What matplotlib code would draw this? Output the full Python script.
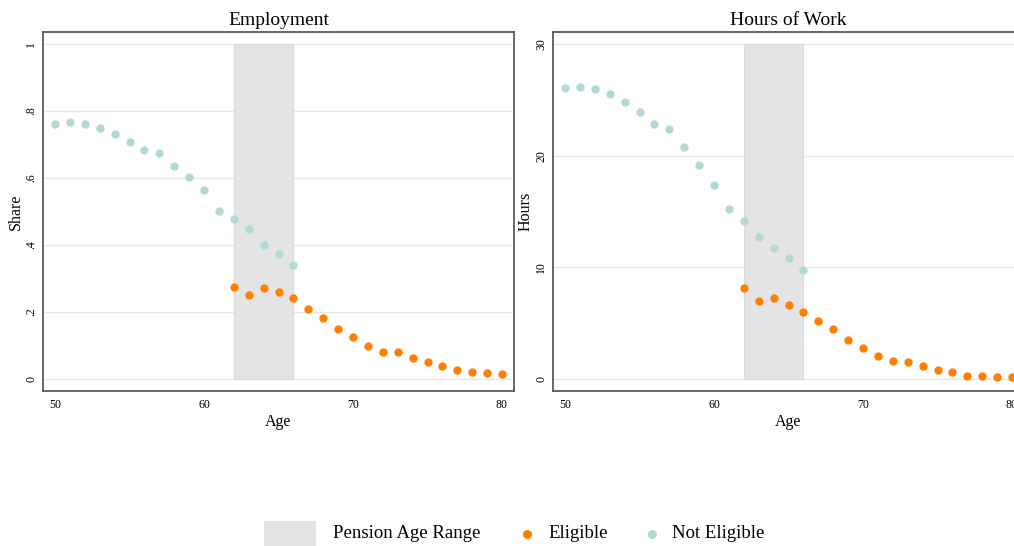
import numpy as np
import matplotlib
matplotlib.use("Agg")
import matplotlib.pyplot as plt
from matplotlib.patches import Rectangle
from matplotlib.lines import Line2D

plt.rcParams["font.family"] = ["Liberation Serif", "DejaVu Serif"]

# data
age_not = list(range(50, 67))
age_elig = list(range(62, 81))

emp_not = [0.761, 0.766, 0.761, 0.748, 0.730, 0.706, 0.683, 0.674, 0.637,
           0.602, 0.563, 0.500, 0.478, 0.449, 0.399, 0.374, 0.340]
emp_elig = [0.276, 0.250, 0.271, 0.260, 0.241, 0.208, 0.183, 0.149, 0.124,
            0.100, 0.082, 0.081, 0.064, 0.050, 0.039, 0.027, 0.020, 0.019, 0.014]

hrs_not = [26.06, 26.12, 25.94, 25.55, 24.81, 23.88, 22.84, 22.39, 20.75,
           19.13, 17.40, 15.19, 14.18, 12.75, 11.70, 10.81, 9.76]
hrs_elig = [8.15, 6.96, 7.22, 6.66, 6.00, 5.16, 4.51, 3.52, 2.75,
            2.09, 1.58, 1.52, 1.19, 0.78, 0.60, 0.30, 0.27, 0.18, 0.15]

pension_range = (62, 66)
x_ticks = [50, 60, 70, 80]
emp_ticks = [0, 0.2, 0.4, 0.6, 0.8, 1]
emp_ticklabels = ["0", ".2", ".4", ".6", ".8", "1"]
hrs_ticks = [0, 10, 20, 30]
hrs_ticklabels = ["0", "10", "20", "30"]

orange = "#ff7f00"
teal = "#b2d9d8"
band = "#e4e4e4"
frame = "#5a5a5a"

W, H = 1014, 546
fig = plt.figure(figsize=(W / 100, H / 100), dpi=100)


def panel(left_px, title, ylabel, not_vals, elig_vals, ticks, ticklabels, ymax):
    ax = fig.add_axes([left_px / W, 1 - 391 / H, 471 / W, 359 / H])
    pad_y = ymax * 12 / 335
    ax.set_ylim(-pad_y, ymax + pad_y)
    ax.set_xlim(50 - 12 / 14.9, 80 + 12 / 14.9)
    for t in ticks:
        ax.axhline(t, color="#e8e8e8", lw=1.0, zorder=0)
    ax.fill_between(pension_range, 0, ymax, color=band, edgecolor="#d9d9d9",
                    lw=0.8, zorder=1)
    ax.plot(age_not, not_vals, "o", color=teal, ms=6, mew=0, zorder=3)
    ax.plot(age_elig, elig_vals, "o", color=orange, ms=6, mew=0, zorder=3)
    ax.set_xticks(x_ticks)
    ax.set_yticks(ticks)
    ax.set_yticklabels(ticklabels, rotation=90, va="center")
    ax.tick_params(length=0, labelsize=8.5)
    ax.tick_params(axis="y", pad=4)
    ax.tick_params(axis="x", pad=6)
    ax.set_title(title, fontsize=14, pad=5)
    ax.set_xlabel("Age", fontsize=11.5, labelpad=2)
    ax.set_ylabel(ylabel, fontsize=11.5, labelpad=1)
    for s in ax.spines.values():
        s.set_color(frame)
        s.set_linewidth(1.3)
    return ax


panel(43, "Employment", "Share", emp_not, emp_elig, emp_ticks, emp_ticklabels, 1.0)
panel(553, "Hours of Work", "Hours", hrs_not, hrs_elig, hrs_ticks, hrs_ticklabels, 30.0)

# legend along the bottom
ly = 1 - 534 / H
fig.patches.append(Rectangle((264 / W, 1 - 547 / H), 52 / W, 26 / H,
                             transform=fig.transFigure, color=band, lw=0))
fig.text(333 / W, ly, "Pension Age Range", fontsize=13.5, va="center")
fig.add_artist(Line2D([527 / W], [ly], marker="o", color=orange, ms=6.5, mew=0,
                      transform=fig.transFigure))
fig.text(548 / W, ly, "Eligible", fontsize=13.5, va="center")
fig.add_artist(Line2D([652 / W], [ly], marker="o", color=teal, ms=6.5, mew=0,
                      transform=fig.transFigure))
fig.text(672 / W, ly, "Not Eligible", fontsize=13.5, va="center")

fig.savefig("out.png", dpi=100)
